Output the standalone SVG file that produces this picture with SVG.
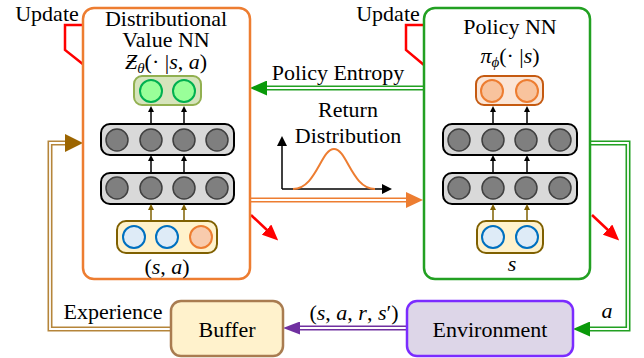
<svg xmlns="http://www.w3.org/2000/svg" width="644" height="358" viewBox="0 0 644 358">
<defs>
<style>
text{font-family:'Times New Roman','Liberation Serif','Tinos','DejaVu Serif',serif;font-size:22px;fill:#000}
.i{font-style:italic}
.box{stroke-width:2.5}
.layer{fill:#d9d9d9;stroke:#000;stroke-width:2}
.hid{fill:#7f7f7f;stroke:#404040;stroke-width:1.5}
.inbox{fill:#fff2cc;stroke:#7f6000;stroke-width:2}
.sc{fill:#deebf7;stroke:#0070c0;stroke-width:2}
.ac{fill:#f8cbad;stroke:#ed7d31;stroke-width:2}
.blk{stroke:#000;stroke-width:1.5;fill:none}
.brn{stroke:#7f6000;stroke-width:1.5;fill:none}
.upd{stroke:#ff0000;stroke-width:2.5;fill:none}
.wht{stroke:#fff;stroke-width:1.8;fill:none}
</style>
<marker id="hb" viewBox="0 0 6 6" refX="0" refY="3" markerWidth="6" markerHeight="6" markerUnits="userSpaceOnUse" orient="auto"><path d="M0,0L6,3L0,6z" fill="#000"/></marker>
<marker id="hbr" viewBox="0 0 6 6" refX="0" refY="3" markerWidth="6" markerHeight="6" markerUnits="userSpaceOnUse" orient="auto"><path d="M0,0L6,3L0,6z" fill="#7f6000"/></marker>
<marker id="hax" viewBox="0 0 10 10" refX="0" refY="5" markerWidth="10" markerHeight="10" markerUnits="userSpaceOnUse" orient="auto"><path d="M0,0L10,5L0,10z" fill="#000"/></marker>
<marker id="hred" viewBox="0 0 16 14" refX="2" refY="7" markerWidth="16" markerHeight="14" markerUnits="userSpaceOnUse" orient="auto"><path d="M0,0L16,7L0,14z" fill="#ff0000"/></marker>
<marker id="hg" viewBox="0 0 17 15" refX="0" refY="7.5" markerWidth="17" markerHeight="15" markerUnits="userSpaceOnUse" orient="auto"><path d="M0,0L17,7.5L0,15z" fill="#0a9a0a"/></marker>
<marker id="ho" viewBox="0 0 17 16" refX="0" refY="8" markerWidth="17" markerHeight="16" markerUnits="userSpaceOnUse" orient="auto"><path d="M0,0L17,8L0,16z" fill="#ed7d31"/></marker>
<marker id="hexp" viewBox="0 0 18 18" refX="0" refY="9" markerWidth="18" markerHeight="18" markerUnits="userSpaceOnUse" orient="auto"><path d="M0,0L18,9L0,18z" fill="#9c6500"/></marker>
<marker id="hp" viewBox="0 0 17 13" refX="0" refY="6.5" markerWidth="17" markerHeight="13" markerUnits="userSpaceOnUse" orient="auto"><path d="M0,0L17,6.5L0,13z" fill="#7030a0"/></marker>
</defs>
<rect width="644" height="358" fill="#fff"/>

<g id="connectors">
  <path d="M424,88H267" stroke="#22a022" stroke-width="5" fill="none" marker-end="url(#hg)"/>
  <path d="M424,88H267" class="wht"/>
  <path d="M250,200H406" stroke="#ed7d31" stroke-width="5" fill="none" marker-end="url(#ho)"/>
  <path d="M250,200H406" class="wht"/>
  <path d="M171,329H50V143H65" stroke="#b5853a" stroke-width="5" fill="none" marker-end="url(#hexp)"/>
  <path d="M171,329H50V143H65" class="wht"/>
  <path d="M590,143H628V329H590" stroke="#22a022" stroke-width="5" fill="none" marker-end="url(#hg)"/>
  <path d="M590,143H628V329H590" class="wht"/>
  <path d="M407,328H300" stroke="#7030a0" stroke-width="5" fill="none" marker-end="url(#hp)"/>
  <path d="M407,328H300" class="wht"/>
  <path d="M84,25H65V50L84,65" class="upd"/>
  <path d="M424,25H406V50L424,65" class="upd"/>
  <path d="M251,215L268,231" class="upd" marker-end="url(#hred)"/>
  <path d="M592,215L609,231" class="upd" marker-end="url(#hred)"/>
  <text x="47" y="21" text-anchor="middle">Update</text>
  <text x="388" y="21" text-anchor="middle">Update</text>
  <text x="338" y="80" text-anchor="middle">Policy Entropy</text>
  <text x="113" y="319" text-anchor="middle">Experience</text>
  <text x="354" y="320" text-anchor="middle">(<tspan class="i">s</tspan>, <tspan class="i">a</tspan>, <tspan class="i">r</tspan>, <tspan class="i">s</tspan>′)</text>
  <text x="607" y="318" text-anchor="middle" class="i">a</text>
</g>

<g id="return-distribution">
  <text x="348" y="117" text-anchor="middle">Return</text>
  <text x="348" y="143" text-anchor="middle">Distribution</text>
  <path d="M282,189V146" class="blk" marker-end="url(#hax)"/>
  <path d="M282,189H382" class="blk" marker-end="url(#hax)"/>
  <path d="M293,189C316,189 321,149 334,149C347,149 352,189 375,189" stroke="#ed7d31" stroke-width="2" fill="none"/>
</g>

<g id="value-nn">
  <rect x="83" y="8" width="167" height="271" rx="11" fill="#fff" stroke="#ed7d31" class="box"/>
  <text x="166" y="26" text-anchor="middle">Distributional</text>
  <text x="166" y="47" text-anchor="middle">Value NN</text>
  <text x="166" y="69" text-anchor="middle"><tspan class="i">Ƶ</tspan><tspan class="i" font-size="15" dy="4">θ</tspan><tspan dy="-4">(· |</tspan><tspan class="i">s</tspan>, <tspan class="i">a</tspan>)</text>
  <rect x="134" y="76" width="67" height="29" rx="8" fill="#d6e4bc" stroke="#92b050" stroke-width="2"/>
  <circle cx="151" cy="91" r="11" fill="#99ff99" stroke="#00b050" stroke-width="2"/>
  <circle cx="184" cy="91" r="11" fill="#99ff99" stroke="#00b050" stroke-width="2"/>
  <rect x="101" y="124" width="133" height="31" rx="9" class="layer"/>
  <circle cx="117" cy="140" r="11" class="hid"/>
  <circle cx="151" cy="140" r="11" class="hid"/>
  <circle cx="184" cy="140" r="11" class="hid"/>
  <circle cx="217" cy="140" r="11" class="hid"/>
  <rect x="101" y="173" width="133" height="31" rx="9" class="layer"/>
  <circle cx="117" cy="188" r="11" class="hid"/>
  <circle cx="151" cy="188" r="11" class="hid"/>
  <circle cx="184" cy="188" r="11" class="hid"/>
  <circle cx="217" cy="188" r="11" class="hid"/>
  <rect x="117" y="221" width="100" height="32" rx="9" class="inbox"/>
  <circle cx="134" cy="237" r="11" class="sc"/>
  <circle cx="167" cy="237" r="11" class="sc"/>
  <circle cx="201" cy="237" r="11" class="ac"/>
  <path d="M151,123V112" class="blk" marker-end="url(#hb)"/>
  <path d="M184,123V112" class="blk" marker-end="url(#hb)"/>
  <path d="M151,172V161" class="blk" marker-end="url(#hb)"/>
  <path d="M184,172V161" class="blk" marker-end="url(#hb)"/>
  <path d="M151,220V210" class="brn" marker-end="url(#hbr)"/>
  <path d="M184,220V210" class="brn" marker-end="url(#hbr)"/>
  <text x="167" y="274" text-anchor="middle">(<tspan class="i">s</tspan>, <tspan class="i">a</tspan>)</text>
</g>

<g id="policy-nn">
  <rect x="424" y="8" width="166" height="271" rx="11" fill="#fff" stroke="#22a022" class="box"/>
  <text x="510" y="34" text-anchor="middle">Policy NN</text>
  <text x="510" y="63" text-anchor="middle"><tspan class="i">π</tspan><tspan class="i" font-size="15" dy="4">ϕ</tspan><tspan dy="-4">(· |</tspan><tspan class="i">s</tspan>)</text>
  <rect x="476" y="76" width="67" height="29" rx="8" fill="#fbe5d6" stroke="#c55a11" stroke-width="2"/>
  <circle cx="492" cy="91" r="11" fill="#f8c39d" stroke="#ed7d31" stroke-width="2"/>
  <circle cx="527" cy="91" r="11" fill="#f8c39d" stroke="#ed7d31" stroke-width="2"/>
  <rect x="443" y="124" width="134" height="31" rx="9" class="layer"/>
  <circle cx="459" cy="140" r="11" class="hid"/>
  <circle cx="493" cy="140" r="11" class="hid"/>
  <circle cx="526" cy="140" r="11" class="hid"/>
  <circle cx="560" cy="140" r="11" class="hid"/>
  <rect x="443" y="173" width="134" height="31" rx="9" class="layer"/>
  <circle cx="459" cy="188" r="11" class="hid"/>
  <circle cx="493" cy="188" r="11" class="hid"/>
  <circle cx="526" cy="188" r="11" class="hid"/>
  <circle cx="560" cy="188" r="11" class="hid"/>
  <rect x="477" y="221" width="66" height="32" rx="9" class="inbox"/>
  <circle cx="493" cy="237" r="11" class="sc"/>
  <circle cx="527" cy="237" r="11" class="sc"/>
  <path d="M493,123V112" class="blk" marker-end="url(#hb)"/>
  <path d="M527,123V112" class="blk" marker-end="url(#hb)"/>
  <path d="M493,172V161" class="blk" marker-end="url(#hb)"/>
  <path d="M527,172V161" class="blk" marker-end="url(#hb)"/>
  <path d="M493,220V210" class="brn" marker-end="url(#hbr)"/>
  <path d="M527,220V210" class="brn" marker-end="url(#hbr)"/>
  <text x="512" y="271" text-anchor="middle" class="i">s</text>
</g>

<g id="buffer">
  <rect x="171" y="301" width="112" height="55" rx="10" fill="#fff2cc" stroke="#a97c50" class="box"/>
  <text x="227" y="337" text-anchor="middle">Buffer</text>
</g>

<g id="environment">
  <rect x="407" y="301" width="166" height="55" rx="10" fill="#ddd6e8" stroke="#7b2cff" class="box"/>
  <text x="490" y="337" text-anchor="middle">Environment</text>
</g>
</svg>
